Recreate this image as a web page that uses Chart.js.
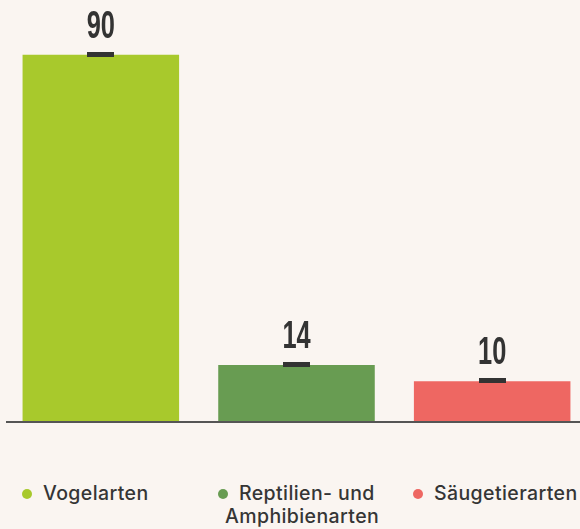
<!DOCTYPE html>
<html lang="de">
<head>
<meta charset="utf-8">
<title>Arten</title>
<script src="https://cdn.jsdelivr.net/npm/chart.js@4/dist/chart.umd.min.js"></script>
<style>
  html, body { margin: 0; padding: 0; background: #faf5f1; }
  body { width: 580px; height: 529px; overflow: hidden; position: relative; }
  #wrap { position: absolute; left: 0; top: 0; width: 600px; height: 440px; }
  #legend { position: absolute; left: 0; top: 482px; width: 600px; }
  .item {
    position: absolute; top: 0; width: 178px;
    font-family: Inter, "Liberation Sans", sans-serif; font-weight: 500;
    font-size: 19.5px; line-height: 23px; color: #353535; letter-spacing: 0.4px;
    padding-left: 7px; text-indent: -7px;
  }
  .dot {
    display: inline-block; width: 10px; height: 10px; border-radius: 50%;
    margin-right: 11px; vertical-align: 1px; text-indent: 0;
  }
</style>
</head>
<body>
<div id="wrap"><canvas id="chart" width="600" height="440"></canvas></div>
<div id="legend"></div>
<script>
// Species counts per group
const categories = ["Vogelarten", "Reptilien- und Amphibienarten", "Säugetierarten"];
const counts = [90, 14, 10];
const barColors = ["#a8c92c", "#689c52", "#ee6762"];
const legendLeft = [22, 218, 413];

// value labels with a short dark tick at the top of each bar
const valueLabels = {
  id: "valueLabels",
  afterDatasetsDraw(chart) {
    const ctx = chart.ctx;
    const meta = chart.getDatasetMeta(0);
    ctx.save();
    meta.data.forEach((bar, i) => {
      ctx.fillStyle = "#333333";
      ctx.fillRect(Math.round(bar.x - 13.5), Math.round(bar.y - 3), 27, 5);
      ctx.save();
      ctx.translate(bar.x, bar.y - 17);
      ctx.scale(0.65, 1);
      ctx.font = "bold 39px 'Liberation Sans', sans-serif";
      ctx.textAlign = "center";
      ctx.textBaseline = "alphabetic";
      ctx.fillText(String(counts[i]), 0, 0);
      ctx.restore();
    });
    ctx.restore();
  }
};

// baseline along the zero line
const baseLine = {
  id: "baseLine",
  afterDatasetsDraw(chart) {
    const ctx = chart.ctx;
    const y = chart.scales.y.getPixelForValue(0);
    ctx.save();
    ctx.fillStyle = "#555555";
    ctx.fillRect(6, Math.round(y) - 1, 574, 2);
    ctx.restore();
  }
};

new Chart(document.getElementById("chart"), {
  type: "bar",
  data: {
    labels: categories,
    datasets: [{
      data: counts,
      backgroundColor: barColors,
      borderWidth: 0,
      barPercentage: 0.8,
      categoryPercentage: 1.0
    }]
  },
  options: {
    responsive: false,
    animation: false,
    layout: { padding: { left: 3, right: 10, top: 14, bottom: 18 } },
    plugins: { legend: { display: false }, tooltip: { enabled: false } },
    scales: {
      x: { display: false },
      y: { display: false, min: 0, max: 100 }
    }
  },
  plugins: [valueLabels, baseLine]
});

// HTML legend
const legend = document.getElementById("legend");
categories.forEach((name, i) => {
  const item = document.createElement("div");
  item.className = "item";
  item.style.left = legendLeft[i] + "px";
  const dot = document.createElement("span");
  dot.className = "dot";
  dot.style.background = barColors[i];
  item.appendChild(dot);
  item.appendChild(document.createTextNode(name));
  legend.appendChild(item);
});
</script>
</body>
</html>
